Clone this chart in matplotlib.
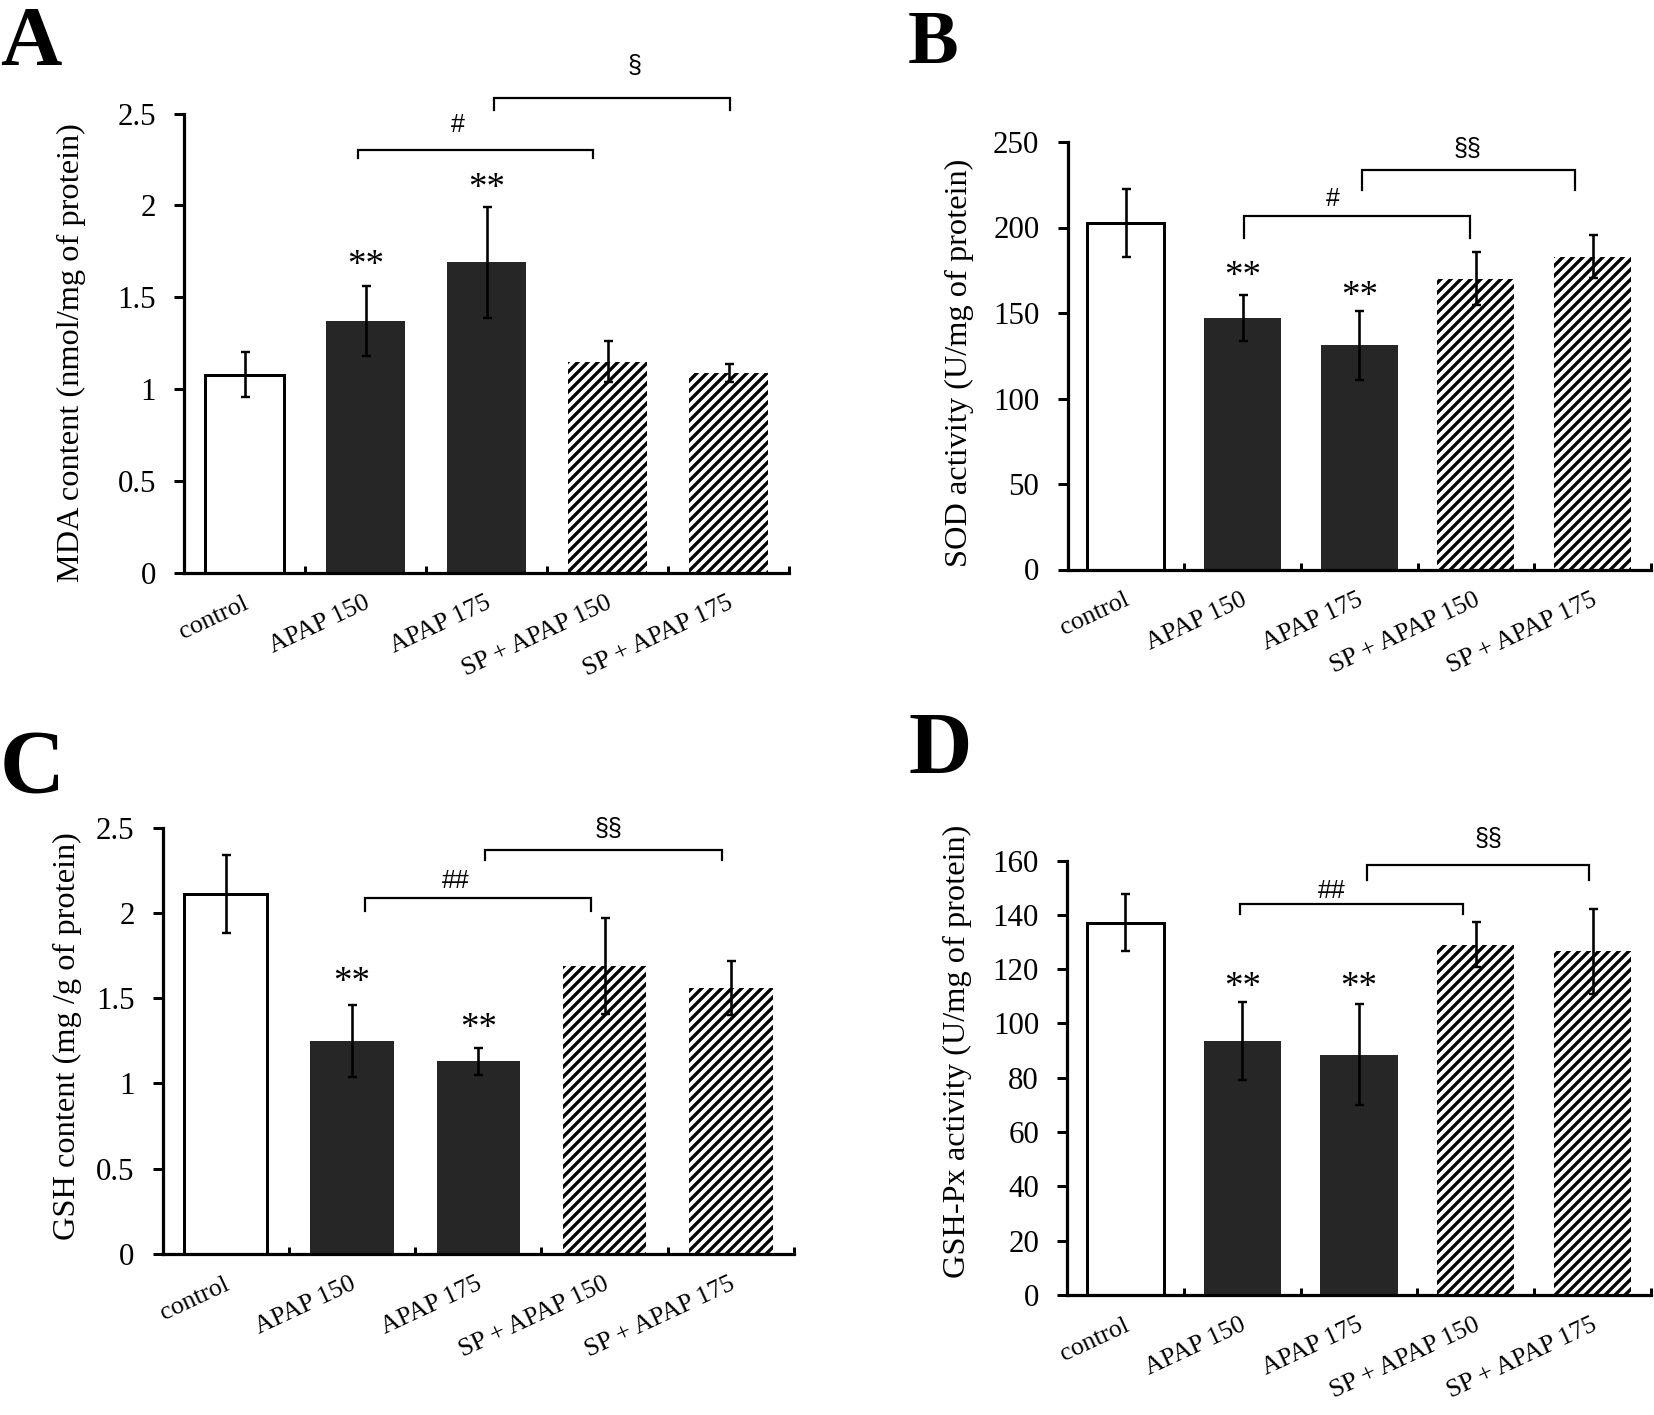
import matplotlib
matplotlib.use("Agg")
import matplotlib.pyplot as plt
import numpy as np

plt.rcParams['font.family'] = ['Liberation Serif', 'DejaVu Serif']
plt.rcParams['hatch.linewidth'] = 2.0

W, H, DPI = 1654, 1415, 120

categories = ["control", "APAP 150", "APAP 175", "SP + APAP 150", "SP + APAP 175"]

mda_mean = [1.08, 1.37, 1.69, 1.15, 1.09]
mda_err = [0.12, 0.19, 0.30, 0.11, 0.05]
sod_mean = [202.5, 147, 131, 170, 183]
sod_err = [20, 13.5, 20, 15.5, 12.5]
gsh_mean = [2.11, 1.25, 1.13, 1.69, 1.56]
gsh_err = [0.23, 0.21, 0.08, 0.28, 0.16]
gpx_mean = [137, 93.5, 88.5, 129, 126.5]
gpx_err = [10.5, 14.5, 18.7, 8.3, 15.7]

ylabels = ["MDA content (nmol/mg of protein)",
           "SOD activity (U/mg of protein)",
           "GSH content (mg /g of protein)",
           "GSH-Px activity (U/mg of protein)"]
yticks_list = [[0, 0.5, 1, 1.5, 2, 2.5],
               [0, 50, 100, 150, 200, 250],
               [0, 0.5, 1, 1.5, 2, 2.5],
               [0, 20, 40, 60, 80, 100, 120, 140, 160]]
ytick_labels = [["0", "0.5", "1", "1.5", "2", "2.5"],
                ["0", "50", "100", "150", "200", "250"],
                ["0", "0.5", "1", "1.5", "2", "2.5"],
                ["0", "20", "40", "60", "80", "100", "120", "140", "160"]]
panel_letters = ["A", "B", "C", "D"]

# significance marks over bars: (category index, y)
stars = [[(1, 1.70), (2, 2.12)],
         [(1, 174), (2, 162.7)],
         [(1, 1.62), (2, 1.35)],
         [(1, 115), (2, 115)]]
# brackets: (x1, x2, y, drop, label, label_x, label_y)
brackets = [[(0.94, 2.88, 2.30, 2.26, "#", 1.76, 2.44),
             (2.06, 4.01, 2.585, 2.52, "§", 3.22, 2.76)],
            [(1.01, 2.95, 207, 194, "#", 1.77, 216.5),
             (2.02, 3.85, 233.8, 222, "§§", 2.93, 245.7)],
            [(1.10, 2.89, 2.086, 2.01, "##", 1.82, 2.19),
             (2.05, 3.93, 2.37, 2.31, "§§", 3.03, 2.49)],
            [(0.98, 2.89, 143.9, 140.2, "##", 1.77, 148.9),
             (2.07, 3.97, 158.3, 152.8, "§§", 3.11, 168)]]

means = [mda_mean, sod_mean, gsh_mean, gpx_mean]
errs = [mda_err, sod_err, gsh_err, gpx_err]

def pt(px):
    return px * 72.0 / DPI

# axes boxes in pixels: left, right, top, bottom
boxes = [(184, 789, 113.6, 573),
         (1067.5, 1651, 142, 569.5),
         (162.7, 794, 827.7, 1254),
         (1067, 1651, 860.5, 1295)]
label_coords = [(-0.162, 0.479), (-0.160, 0.483), (-0.128, 0.511), (-0.163, 0.56)]
letter_pos = [(0, 65, 85), (908, 63, 76), (0, 793, 90), (908, 773, 88)]

fig = plt.figure(figsize=(W / DPI, H / DPI), dpi=DPI)

for i in range(4):
    l, r, t, b = boxes[i]
    ax = fig.add_axes([l / W, 1 - b / H, (r - l) / W, (b - t) / H])
    x = np.arange(len(categories))
    m = means[i]
    e = errs[i]
    ax.bar(x[0], m[0], width=0.66, color='white', edgecolor='black', linewidth=pt(3), zorder=2)
    ax.bar(x[1:3], m[1:3], width=0.66, color='#262626', edgecolor='#262626', linewidth=0, zorder=2)
    ax.bar(x[3:5], m[3:5], width=0.66, color='white', edgecolor='black', linewidth=0, hatch='////', zorder=2)
    ax.errorbar(x, m, yerr=e, fmt='none', ecolor='black', elinewidth=pt(2.6),
                capsize=pt(4.5), capthick=pt(2.4), zorder=3)
    yt = yticks_list[i]
    ax.set_ylim(yt[0], yt[-1])
    ax.set_xlim(-0.5, 4.5)
    ax.set_yticks(yt)
    ax.set_yticklabels(ytick_labels[i], fontsize=pt(31))
    ax.set_xticks(x)
    ax.set_xticklabels([])
    ax.set_xticks(np.arange(0.5, 5, 1.0), minor=True)
    ax.tick_params(axis='x', which='major', length=0)
    ax.tick_params(axis='x', which='minor', direction='in', length=pt(7), width=pt(3))
    ax.tick_params(axis='y', direction='out', length=pt(10), width=pt(3), pad=pt(18))
    for s in ['top', 'right']:
        ax.spines[s].set_visible(False)
    for s in ['left', 'bottom']:
        ax.spines[s].set_linewidth(pt(3.2))
    ax.set_ylabel(ylabels[i], fontsize=pt(32.4))
    ax.yaxis.set_label_coords(*label_coords[i])
    # category labels
    for xi, cat in zip(x, categories):
        ax.annotate(cat, xy=(xi, 0), xycoords=('data', 'axes fraction'),
                    xytext=(-pt(2), -pt(19)), textcoords='offset points',
                    rotation=25, rotation_mode='anchor', ha='right', va='top',
                    fontsize=pt(26), annotation_clip=False)
    for (ci, yv) in stars[i]:
        ax.annotate("**", xy=(ci, yv), xytext=(0, -pt(5)), textcoords='offset points',
                    ha='center', va='center', fontsize=pt(37), zorder=4)
    for (x1, x2, yb, yd, lab, lx, ly) in brackets[i]:
        ax.plot([x1, x1, x2, x2], [yd, yb, yb, yd], color='black', lw=pt(2.2),
                clip_on=False, solid_joinstyle='miter', zorder=4)
        ax.text(lx, ly, lab, ha='center', va='center', fontsize=pt(25),
                family=['Liberation Sans', 'DejaVu Sans'], clip_on=False)
    lx, ly, fs = letter_pos[i]
    fig.text(lx / W, 1 - ly / H, panel_letters[i], fontsize=pt(fs), fontweight='bold',
             ha='left', va='baseline')

fig.savefig("out.png", dpi=DPI)
